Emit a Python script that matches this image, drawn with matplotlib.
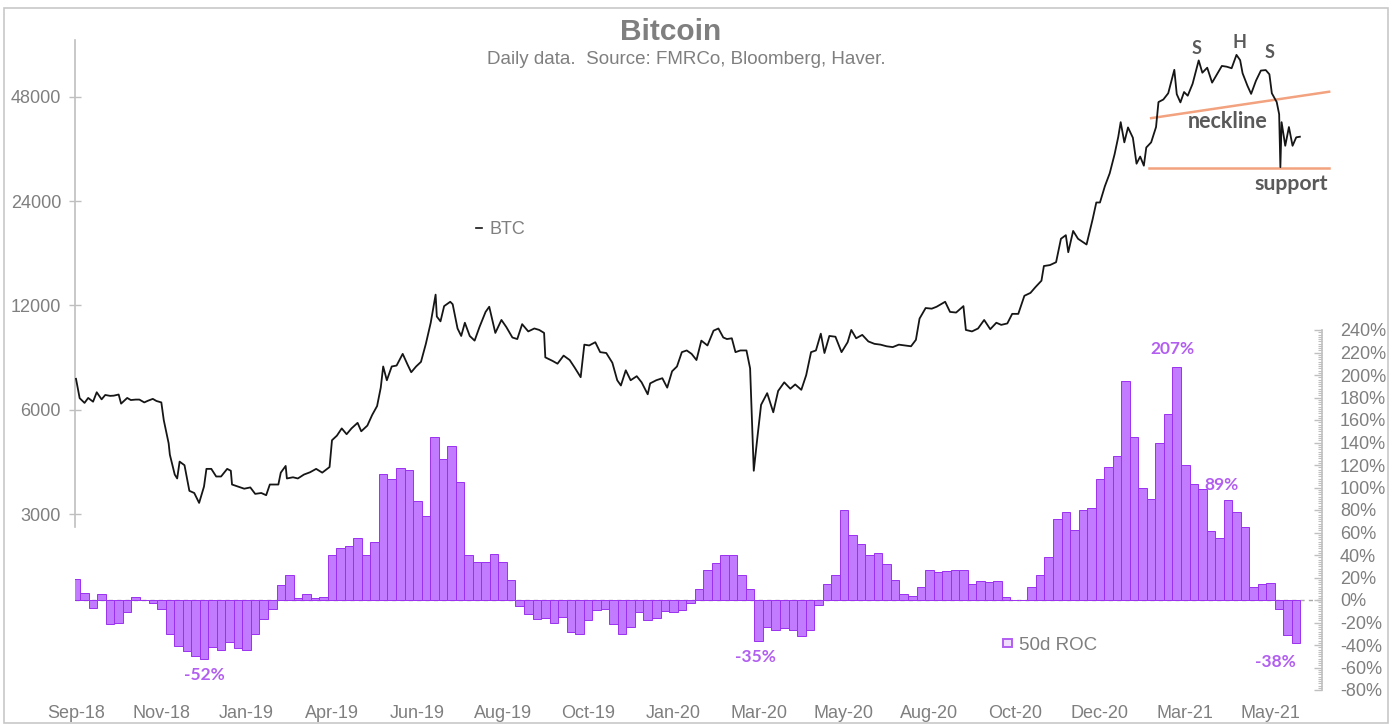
import matplotlib
matplotlib.use("Agg")
import matplotlib.pyplot as plt
import matplotlib.dates as mdates
from matplotlib.patches import Patch, Rectangle
from matplotlib.lines import Line2D
from matplotlib.ticker import FixedLocator, MultipleLocator, FuncFormatter, NullLocator
import pandas as pd

# ---------------- data ----------------
price_dates = [
    "2018-09-04", "2018-09-07", "2018-09-11", "2018-09-14", "2018-09-18", "2018-09-21", "2018-09-25", "2018-09-28",
    "2018-10-02", "2018-10-05", "2018-10-09", "2018-10-11", "2018-10-16", "2018-10-19", "2018-10-23", "2018-10-26",
    "2018-10-30", "2018-11-02", "2018-11-06", "2018-11-09", "2018-11-13", "2018-11-15", "2018-11-19", "2018-11-20",
    "2018-11-24", "2018-11-26", "2018-11-28", "2018-12-02", "2018-12-06", "2018-12-10", "2018-12-14", "2018-12-18",
    "2018-12-20", "2018-12-24", "2018-12-28", "2019-01-01", "2019-01-06", "2019-01-09", "2019-01-10", "2019-01-15",
    "2019-01-20", "2019-01-25", "2019-01-29", "2019-02-03", "2019-02-07", "2019-02-10", "2019-02-17", "2019-02-19",
    "2019-02-23", "2019-02-24", "2019-03-01", "2019-03-05", "2019-03-10", "2019-03-15", "2019-03-20", "2019-03-25",
    "2019-03-31", "2019-04-02", "2019-04-06", "2019-04-10", "2019-04-14", "2019-04-18", "2019-04-23", "2019-04-26",
    "2019-05-01", "2019-05-05", "2019-05-09", "2019-05-12", "2019-05-14", "2019-05-17", "2019-05-21", "2019-05-25",
    "2019-05-30", "2019-06-03", "2019-06-06", "2019-06-10", "2019-06-14", "2019-06-18", "2019-06-22", "2019-06-26",
    "2019-06-27", "2019-06-30", "2019-07-03", "2019-07-08", "2019-07-10", "2019-07-14", "2019-07-17", "2019-07-20",
    "2019-07-24", "2019-07-28", "2019-08-01", "2019-08-06", "2019-08-09", "2019-08-14", "2019-08-19", "2019-08-23",
    "2019-08-28", "2019-09-01", "2019-09-05", "2019-09-10", "2019-09-15", "2019-09-19", "2019-09-23", "2019-09-24",
    "2019-09-30", "2019-10-04", "2019-10-09", "2019-10-14", "2019-10-18", "2019-10-23", "2019-10-26", "2019-10-30",
    "2019-11-04", "2019-11-08", "2019-11-13", "2019-11-18", "2019-11-22", "2019-11-25", "2019-11-29", "2019-12-03",
    "2019-12-08", "2019-12-12", "2019-12-17", "2019-12-19", "2019-12-24", "2019-12-29", "2020-01-02", "2020-01-06",
    "2020-01-10", "2020-01-14", "2020-01-18", "2020-01-22", "2020-01-26", "2020-01-30", "2020-02-04", "2020-02-09",
    "2020-02-13", "2020-02-17", "2020-02-20", "2020-02-24", "2020-02-27", "2020-03-02", "2020-03-07", "2020-03-10",
    "2020-03-12", "2020-03-13", "2020-03-16", "2020-03-19", "2020-03-24", "2020-03-29", "2020-04-02", "2020-04-07",
    "2020-04-12", "2020-04-16", "2020-04-21", "2020-04-25", "2020-04-29", "2020-05-03", "2020-05-07", "2020-05-10",
    "2020-05-14", "2020-05-19", "2020-05-24", "2020-05-29", "2020-06-01", "2020-06-05", "2020-06-10", "2020-06-15",
    "2020-06-20", "2020-06-25", "2020-06-30", "2020-07-05", "2020-07-10", "2020-07-15", "2020-07-20", "2020-07-24",
    "2020-07-27", "2020-08-01", "2020-08-06", "2020-08-10", "2020-08-17", "2020-08-21", "2020-08-26", "2020-09-01",
    "2020-09-03", "2020-09-08", "2020-09-13", "2020-09-18", "2020-09-23", "2020-09-28", "2020-10-02", "2020-10-07",
    "2020-10-11", "2020-10-16", "2020-10-21", "2020-10-26", "2020-10-30", "2020-11-04", "2020-11-06", "2020-11-11",
    "2020-11-16", "2020-11-20", "2020-11-24", "2020-11-26", "2020-11-30", "2020-12-04", "2020-12-08", "2020-12-11",
    "2020-12-16", "2020-12-19", "2020-12-22", "2020-12-26", "2020-12-30", "2021-01-03", "2021-01-06", "2021-01-08",
    "2021-01-11", "2021-01-14", "2021-01-18", "2021-01-21", "2021-01-24", "2021-01-27", "2021-01-29", "2021-02-02",
    "2021-02-06", "2021-02-08", "2021-02-12", "2021-02-16", "2021-02-21", "2021-02-23", "2021-02-26", "2021-03-01",
    "2021-03-04", "2021-03-08", "2021-03-13", "2021-03-16", "2021-03-20", "2021-03-24", "2021-03-28", "2021-04-01",
    "2021-04-05", "2021-04-09", "2021-04-13", "2021-04-16", "2021-04-18", "2021-04-22", "2021-04-25", "2021-04-29",
    "2021-05-03", "2021-05-07", "2021-05-10", "2021-05-12", "2021-05-16", "2021-05-18", "2021-05-19", "2021-05-20",
    "2021-05-23", "2021-05-26", "2021-05-29", "2021-06-01", "2021-06-04",
]
price_values = [
    7370, 6480, 6280, 6490, 6330, 6740, 6430, 6620,
    6580, 6590, 6640, 6250, 6490, 6400, 6420, 6420,
    6300, 6370, 6450, 6360, 6300, 5600, 4800, 4450,
    3900, 3800, 4250, 4150, 3500, 3450, 3230, 3600,
    4050, 4050, 3850, 3850, 4050, 4000, 3650, 3600,
    3550, 3580, 3430, 3450, 3400, 3650, 3650, 3950,
    4130, 3800, 3830, 3800, 3900, 3960, 4050, 3950,
    4100, 4900, 5050, 5300, 5100, 5300, 5500, 5200,
    5400, 5800, 6150, 6950, 8000, 7300, 8000, 8050,
    8700, 8100, 7700, 8000, 8250, 9300, 10700, 12900,
    11150, 10800, 11950, 12300, 12100, 10300, 9800, 10700,
    9800, 9500, 10400, 11500, 11900, 10000, 10900, 10400,
    9700, 9600, 10600, 10100, 10300, 10200, 10000, 8500,
    8300, 8150, 8600, 8350, 7950, 7450, 9250, 9200,
    9400, 8800, 8750, 8200, 7300, 7050, 7800, 7300,
    7500, 7200, 6650, 7150, 7300, 7400, 6950, 7750,
    8000, 8800, 8900, 8700, 8350, 9500, 9200, 10150,
    10300, 9700, 9600, 9650, 8800, 8900, 8900, 7900,
    4970, 4000, 5000, 6200, 6700, 5900, 6800, 7200,
    6900, 7100, 6850, 7550, 8800, 8900, 9950, 8750,
    9800, 9750, 8800, 9400, 10200, 9650, 9870, 9450,
    9300, 9250, 9150, 9100, 9250, 9200, 9150, 9550,
    11000, 11800, 11750, 11900, 12300, 11500, 11450, 11950,
    10200, 10100, 10300, 10900, 10250, 10700, 10550, 10650,
    11350, 11350, 12800, 13050, 13550, 14150, 15600, 15700,
    16000, 18700, 19150, 17100, 19700, 18700, 18300, 18000,
    21300, 23800, 23800, 26500, 28900, 32800, 36800, 40600,
    35500, 39200, 36600, 30800, 32300, 30400, 34300, 35500,
    39300, 46400, 47200, 49200, 57500, 48900, 46300, 49600,
    48400, 52400, 61200, 56400, 58300, 52800, 55800, 59000,
    58700, 58100, 63500, 61300, 56200, 51700, 49000, 53500,
    57200, 57400, 55800, 49200, 46400, 42800, 30100, 40600,
    34700, 39300, 34700, 36700, 36850,
]

# 50-day rate of change (%), weekly samples starting 2018-09-04
roc_start = "2018-09-04"
roc_values = [
    19, 6, -7, 5, -21, -20, -11, 3, 0, -3,
    -8, -30, -41, -45, -50, -52, -42, -44, -37, -43,
    -44, -30, -17, -8, 13, 22, 2, 5, 2, 3,
    40, 46, 48, 55, 40, 52, 112, 108, 117, 116,
    88, 75, 145, 125, 137, 105, 40, 34, 34, 41,
    34, 18, -5, -12, -17, -16, -20, -15, -28, -30,
    -18, -9, -8, -21, -30, -24, -11, -18, -16, -10,
    -11, -9, -3, 10, 27, 33, 40, 40, 22, 10,
    -36, -24, -27, -25, -27, -32, -27, -4, 14, 22,
    80, 58, 50, 40, 42, 32, 18, 5, 4, 12,
    27, 25, 26, 27, 27, 14, 17, 16, 17, 3,
    0, 0, 12, 22, 38, 72, 78, 62, 80, 82,
    108, 118, 128, 195, 145, 100, 90, 140, 165, 207,
    120, 103, 99, 61, 55, 89, 78, 65, 12, 14,
    15, -8, -31, -38,
]

left_ticks = [3000, 6000, 12000, 24000, 48000]
right_ticks = list(range(-80, 241, 20))
x_tick_start = "2018-09-04"
x_tick_step_days = 70
x_tick_count = 15

# pattern lines (date, price)
neckline_dates = ["2021-02-02", "2021-06-28"]
neckline_values = [41700, 49700]
support_dates = ["2021-01-31", "2021-06-28"]
support_values = [29900, 29900]

# ---------------- styling ----------------
plt.rcParams["font.family"] = ["Liberation Sans", "DejaVu Sans"]

GREY = "#7f7f7f"
SPINE = "#bfbfbf"
BAR_FACE = "#c27aff"
BAR_EDGE = "#9b30f0"
PURPLE_TXT = "#b25ef0"
SALMON = "#f2a27f"
DARKTXT = "#5a5a5a"
TICK_SIZE = 13

W, H = 1397, 724
fig = plt.figure(figsize=(W / 100, H / 100), dpi=100)


def fx(x):
    return x / W


def fy(y):
    return 1 - y / H


PX_PER_DAY = 1.219
x_origin = mdates.date2num(pd.Timestamp(x_tick_start))  # sits at pixel 76
xmin = x_origin - (76 - 75) / PX_PER_DAY
xmax = x_origin + (1322 - 76) / PX_PER_DAY

# bar (ROC) axes
ax2 = fig.add_axes([fx(75), fy(690), fx(1322) - fx(75), (690 - 330) / H])
ax2.set_facecolor("none")
# price axes
ax1 = fig.add_axes([fx(75), fy(527), fx(1322) - fx(75), (527 - 40) / H])
ax1.set_facecolor("none")

# ---- ROC bars ----
roc_dates = pd.date_range(roc_start, periods=len(roc_values), freq="7D")
roc_x = mdates.date2num(roc_dates)
ax2.axhline(0, color="#a8a8a8", lw=1.0, ls=(0, (3, 3)), zorder=0)
ax2.bar(roc_x, roc_values, width=7, color=BAR_FACE, edgecolor=BAR_EDGE,
        linewidth=0.7, zorder=2, label="50d ROC")
ax2.set_xlim(xmin, xmax)
ax2.set_ylim(-80, 240)
for s in ["left", "top", "bottom"]:
    ax2.spines[s].set_visible(False)
ax2.spines["right"].set_color(SPINE)
ax2.spines["right"].set_linewidth(1.2)
ax2.yaxis.tick_right()
ax2.yaxis.set_major_locator(FixedLocator(right_ticks))
ax2.yaxis.set_minor_locator(MultipleLocator(2))
ax2.yaxis.set_major_formatter(FuncFormatter(lambda v, p: f"{v:.0f}%"))
ax2.tick_params(axis="y", which="major", direction="in", length=6, color=SPINE,
                width=1, pad=13, labelsize=TICK_SIZE, labelcolor=GREY)
ax2.tick_params(axis="y", which="minor", direction="in", length=3, color=SPINE, width=0.8)

# x ticks
tick_dates = [pd.Timestamp(x_tick_start) + pd.Timedelta(days=x_tick_step_days * i)
              for i in range(x_tick_count)]
ax2.xaxis.set_major_locator(FixedLocator(mdates.date2num(tick_dates)))
ax2.xaxis.set_major_formatter(mdates.DateFormatter("%b-%y"))
ax2.tick_params(axis="x", length=0, pad=11, labelsize=TICK_SIZE, labelcolor=GREY)

# ---- price line ----
p_x = mdates.date2num(pd.to_datetime(price_dates))
ax1.plot(p_x, price_values, color="#161616", lw=1.3, label="BTC", zorder=3)
ax1.set_yscale("log", base=2)
ax1.set_ylim(2752, 70100)
ax1.set_xlim(xmin, xmax)
ax1.yaxis.set_major_locator(FixedLocator(left_ticks))
ax1.yaxis.set_minor_locator(NullLocator())
ax1.yaxis.set_major_formatter(FuncFormatter(lambda v, p: f"{v:.0f}"))
ax1.tick_params(axis="y", direction="inout", length=8, color=SPINE, width=1,
                pad=6, labelsize=TICK_SIZE, labelcolor=GREY)
ax1.tick_params(axis="x", bottom=False, labelbottom=False)
for s in ["right", "top", "bottom"]:
    ax1.spines[s].set_visible(False)
ax1.spines["left"].set_color(SPINE)
ax1.spines["left"].set_linewidth(1.2)

# neckline & support
ax1.plot(mdates.date2num(pd.to_datetime(neckline_dates)), neckline_values,
         color=SALMON, lw=1.8, clip_on=False, zorder=2)
ax1.plot(mdates.date2num(pd.to_datetime(support_dates)), support_values,
         color=SALMON, lw=1.8, clip_on=False, zorder=2)

# pattern labels
pat_font = dict(family=["Lato", "DejaVu Sans"], color=DARKTXT, fontweight="bold",
                ha="center", va="center")
fig.text(fx(1197), fy(48), "S", fontsize=13, **pat_font)
fig.text(fx(1239), fy(42), "H", fontsize=13, **pat_font)
fig.text(fx(1270), fy(52), "S", fontsize=13, **pat_font)
fig.text(fx(1228), fy(121), "neckline", fontsize=15.5, **pat_font)
fig.text(fx(1291), fy(184), "support", fontsize=15.3, **pat_font)

# ROC annotations
ann = dict(textcoords="offset points", ha="center", va="center", color=PURPLE_TXT,
           fontsize=12.5, family=["Lato", "DejaVu Sans"], fontweight="bold")
i_min1 = roc_values.index(-52)
ax2.annotate("-52%", xy=(roc_x[i_min1], -52), xytext=(0, -12), **ann)
i_min2 = roc_values.index(-36)
ax2.annotate("-35%", xy=(roc_x[i_min2], -36), xytext=(-2, -12), **ann)
i_max = roc_values.index(207)
ax2.annotate("207%", xy=(roc_x[i_max], 207), xytext=(-3, 13), **ann)
i_89 = roc_values.index(89)
ax2.annotate("89%", xy=(roc_x[i_89], 89), xytext=(-5, 11), **ann)
i_last = len(roc_values) - 1
ax2.annotate("-38%", xy=(roc_x[i_last], roc_values[i_last]), xytext=(-15, -14), **ann)

# legends
ax1.legend(handles=[Line2D([], [], color="#161616", lw=1.2)], labels=["BTC"],
           loc="center left", bbox_to_anchor=(fx(460), fy(230)),
           bbox_transform=fig.transFigure, frameon=False, handlelength=0.3,
           handletextpad=0.45, fontsize=13, labelcolor=GREY)
ax2.legend(handles=[Patch(facecolor="#f1deff", edgecolor="#b25ef0", lw=1.4)],
           labels=["50d ROC"], loc="center left",
           bbox_to_anchor=(fx(986), fy(645)), bbox_transform=fig.transFigure,
           frameon=False, handlelength=0.5, handleheight=0.3,
           handletextpad=0.35, fontsize=13.5, labelcolor=GREY)

# titles
fig.text(fx(671), fy(32), "Bitcoin", fontsize=21.5, fontweight="bold", color=GREY,
         ha="center", va="center")
fig.text(fx(686), fy(60), "Daily data.  Source: FMRCo, Bloomberg, Haver.", fontsize=13.5,
         color=GREY, ha="center", va="center")

# outer frame
fig.patches.append(Rectangle((fx(4), fy(723)), fx(1388) - fx(4), (723 - 8) / H,
                             transform=fig.transFigure, fill=False,
                             edgecolor="#c8c8c8", lw=1.2))

fig.savefig("out.png", dpi=100)
